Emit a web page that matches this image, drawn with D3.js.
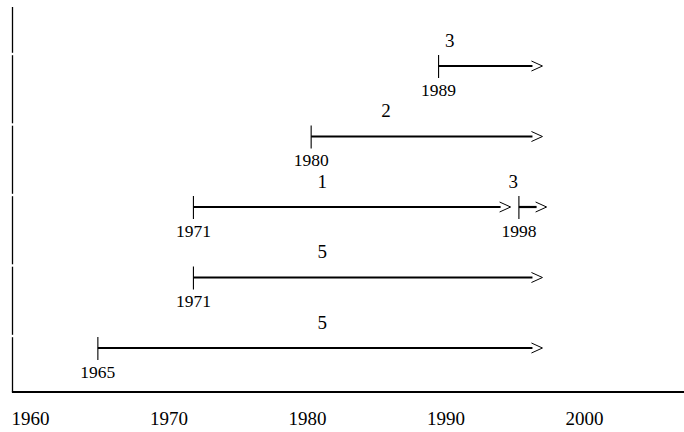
<!DOCTYPE html>
<html>
<head>
<meta charset="utf-8">
<script src="https://cdn.jsdelivr.net/npm/d3@7"></script>
<style>
    body { margin: 0; background: #fff; }
    text { font-family: "Liberation Serif", "Times New Roman", serif; fill: #000; }
</style>
</head>
<body>
<svg id="chart" width="684" height="432"></svg>
<script>
// rows, top to bottom
var rows = [0, 1, 2, 3, 4]
// segments: where they start / end on the year axis, which row they sit on
var segRow = [0, 1, 2, 2, 3, 4]
var segStart = [1989.5, 1980.3, 1971.8, 1995.3, 1971.8, 1964.9]
var segEnd = [1997.0, 1997.0, 1994.7, 1997.3, 1997.0, 1997.0]
var startLabels = ['1989', '1980', '1971', '1998', '1971', '1965']
var counts = ['3', '2', '1', '3', '5', '5']
var countAt = [1990.3, 1985.7, 1981.1, 1994.9, 1981.1, 1981.1]
var yearTicks = [1960, 1970, 1980, 1990, 2000]

var width = 684
var height = 432
var axisY = 392
var axisX = 12.5

var svg = d3.select('#chart')

var x = d3.scaleLinear().domain([1960, 2000]).range([30, 584])
var y = d3.scalePoint().domain(rows).range([66, 348])

// vertical axis, broken just above each row's start tick
var cuts = [7].concat(rows.map(function (r) { return y(r) - 12 })).concat([axisY])
for (var i = 0; i < cuts.length - 1; i++) {
    svg.append('line')
        .attr('x1', axisX).attr('x2', axisX)
        .attr('y1', cuts[i] + (i == 0 ? 0 : 1.2))
        .attr('y2', cuts[i + 1] - (i == cuts.length - 2 ? 0 : 1.2))
        .attr('stroke', '#000').attr('stroke-width', 1.3)
}

// horizontal axis
svg.append('line')
    .attr('x1', axisX - 0.6).attr('x2', width)
    .attr('y1', axisY).attr('y2', axisY)
    .attr('stroke', '#000').attr('stroke-width', 2.2)

var gx = svg.append('g').attr('transform', 'translate(0,' + axisY + ')')
    .call(d3.axisBottom(x).tickValues(yearTicks).tickSize(0).tickPadding(20).tickFormat(d3.format('d')))
gx.select('.domain').remove()
gx.attr('font-family', null).attr('font-size', null)
gx.selectAll('text').style('font-size', '19px')

var segs = segRow.map(function (r, i) {
    return {row: r, start: segStart[i], end: segEnd[i], label: startLabels[i], count: counts[i], countAt: countAt[i]}
})

var g = svg.selectAll('g.seg').data(segs).enter().append('g').attr('class', 'seg')

// start tick
g.append('line')
    .attr('x1', function (d) { return x(d.start) })
    .attr('x2', function (d) { return x(d.start) })
    .attr('y1', function (d) { return y(d.row) - 11 })
    .attr('y2', function (d) { return y(d.row) + 12 })
    .attr('stroke', '#000').attr('stroke-width', 1.1)

// shaft
g.append('line')
    .attr('x1', function (d) { return x(d.start) })
    .attr('x2', function (d) { return x(d.end) - 10 })
    .attr('y1', function (d) { return y(d.row) })
    .attr('y2', function (d) { return y(d.row) })
    .attr('stroke', '#000').attr('stroke-width', 2.2)

// open arrow head
g.append('path')
    .attr('d', function (d) {
        var tx = x(d.end), ty = y(d.row)
        return 'M' + (tx - 11) + ',' + (ty - 5) + 'L' + tx + ',' + ty + 'L' + (tx - 11) + ',' + (ty + 5)
    })
    .attr('fill', 'none').attr('stroke', '#000').attr('stroke-width', 1)

// start year under the tick
g.append('text')
    .attr('x', function (d) { return x(d.start) })
    .attr('y', function (d) { return y(d.row) + 29.5 })
    .attr('text-anchor', 'middle')
    .style('font-size', '17.5px')
    .text(function (d) { return d.label })

// count above the line
g.append('text')
    .attr('x', function (d) { return x(d.countAt) })
    .attr('y', function (d) { return y(d.row) - 19.5 })
    .attr('text-anchor', 'middle')
    .style('font-size', '19px')
    .text(function (d) { return d.count })
</script>
</body>
</html>
